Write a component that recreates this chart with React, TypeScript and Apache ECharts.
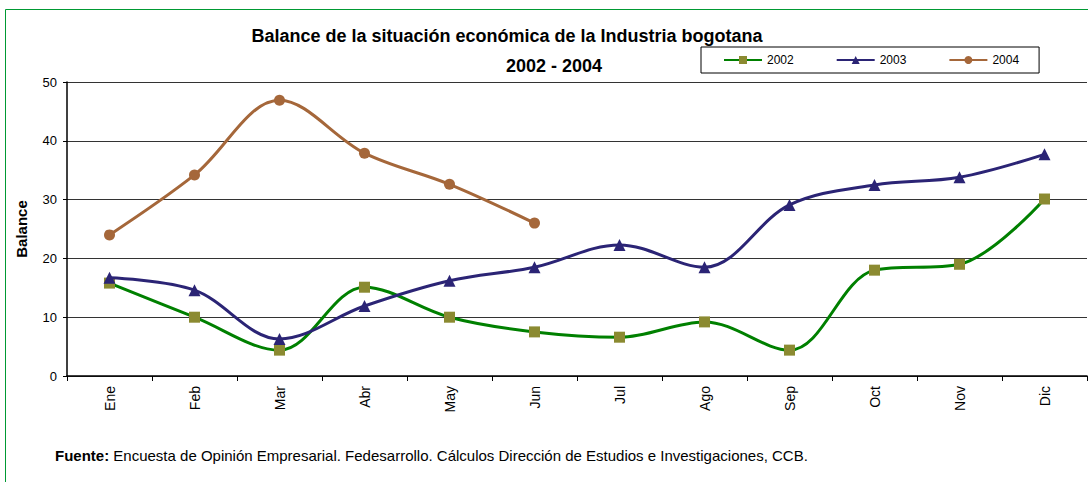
import React, { useEffect, useRef } from "react";
import * as echarts from "echarts";

const months = ["Ene", "Feb", "Mar", "Abr", "May", "Jun", "Jul", "Ago", "Sep", "Oct", "Nov", "Dic"];
const s2002 = [15.8, 10.0, 4.4, 15.1, 10.0, 7.5, 6.6, 9.2, 4.4, 18.0, 19.0, 30.1];
const s2003 = [16.7, 14.6, 6.3, 11.9, 16.2, 18.5, 22.3, 18.5, 29.1, 32.5, 33.8, 37.7];
const s2004 = [24.0, 34.2, 46.9, 37.9, 32.6, 26.0];
const yTicks = [0, 10, 20, 30, 40, 50];

const FONT = "Liberation Sans, Arial, sans-serif";

export default function App() {
  const ref = useRef<HTMLDivElement>(null);
  useEffect(() => {
    const chart = echarts.init(ref.current!, undefined, { renderer: "svg" });
    chart.setOption({
      animation: false,
      backgroundColor: "#fff",
      textStyle: { fontFamily: FONT },
      title: [
        {
          text: "Balance de la situación económica de la Industria bogotana",
          left: 502,
          textAlign: "center",
          top: 22,
          textStyle: { fontSize: 18, fontWeight: "bold", color: "#000", fontFamily: FONT },
        },
        {
          text: "2002 - 2004",
          left: 549,
          textAlign: "center",
          top: 52,
          textStyle: { fontSize: 18, fontWeight: "bold", color: "#000", fontFamily: FONT },
        },
      ],
      legend: {
        left: 701,
        top: 47,
        width: 337,
        padding: [7, 20, 7, 22],
        itemWidth: 38,
        itemHeight: 10,
        itemGap: 42,
        borderColor: "#000",
        borderWidth: 1,
        textStyle: { fontSize: 12, color: "#000", fontFamily: FONT },
        data: ["2002", "2003", "2004"],
      },
      grid: { left: 67, top: 82, right: 1, bottom: 106, containLabel: false },
      xAxis: {
        type: "category",
        data: months,
        boundaryGap: true,
        axisLine: { lineStyle: { color: "#000", width: 1.5 } },
        axisTick: { show: true, length: 5, lineStyle: { color: "#000" } },
        axisLabel: {
          rotate: 90,
          fontSize: 14,
          color: "#000",
          margin: 10,
          fontFamily: FONT,
        },
        splitLine: { show: false },
      },
      yAxis: {
        type: "value",
        min: yTicks[0],
        max: yTicks[yTicks.length - 1],
        interval: 10,
        name: "Balance",
        nameLocation: "middle",
        nameGap: 38,
        nameTextStyle: { fontSize: 15, fontWeight: "bold", color: "#000", fontFamily: FONT },
        axisLine: { show: true, lineStyle: { color: "#000", width: 1.5 } },
        axisTick: { show: true, length: 4, lineStyle: { color: "#000" } },
        axisLabel: { fontSize: 13, color: "#000", margin: 10, fontFamily: FONT },
        splitLine: { show: true, lineStyle: { color: "#333", width: 1.2 } },
      },
      series: [
        {
          name: "2002",
          type: "line",
          data: s2002,
          smooth: 0.35,
          symbol: "rect",
          symbolSize: 11,
          lineStyle: { color: "#008000", width: 3 },
          itemStyle: { color: "#8B8A31" },
          color: "#008000",
          z: 3,
        },
        {
          name: "2003",
          type: "line",
          data: s2003,
          smooth: 0.35,
          symbol: "triangle",
          symbolSize: 12,
          lineStyle: { color: "#2B2475", width: 3 },
          itemStyle: { color: "#2B2475" },
          color: "#2B2475",
          z: 4,
        },
        {
          name: "2004",
          type: "line",
          data: s2004,
          smooth: 0.35,
          symbol: "circle",
          symbolSize: 11,
          lineStyle: { color: "#A5673A", width: 3 },
          itemStyle: { color: "#A5673A" },
          color: "#A5673A",
          z: 5,
        },
      ],
      graphic: [
        {
          type: "rect",
          left: 3,
          top: 7,
          shape: { width: 1100, height: 500 },
          style: { fill: "none", stroke: "#009933", lineWidth: 1 },
          silent: true,
        },
        {
          type: "text",
          left: 55,
          top: 448,
          style: {
            rich: {
              b: { fontWeight: "bold", fontSize: 15, fontFamily: FONT, fill: "#000" },
              n: { fontSize: 15, fontFamily: FONT, fill: "#000" },
            },
            text: "{b|Fuente:}{n| Encuesta de Opinión Empresarial. Fedesarrollo. Cálculos Dirección de Estudios e Investigaciones, CCB.}",
          },
        },
      ],
    });
    return () => chart.dispose();
  }, []);
  return <div ref={ref} style={{ width: 1088, height: 482, position: "absolute", left: 0, top: 0 }} />;
}
